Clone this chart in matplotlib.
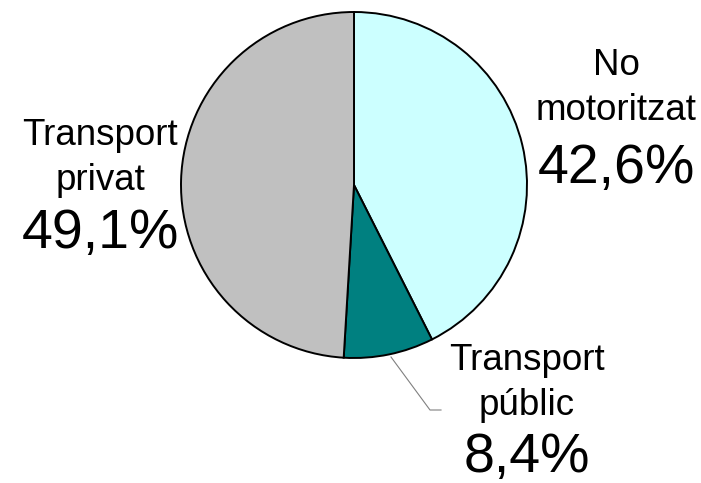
import matplotlib.pyplot as plt

categories = ['No\nmotoritzat', 'Transport\npúblic', 'Transport\nprivat']
shares = [42.6, 8.4, 49.1]
pct_labels = ['42,6%', '8,4%', '49,1%']
colors = ['#CCFFFF', '#008080', '#C0C0C0']

plt.rcParams['font.family'] = ['Liberation Sans', 'DejaVu Sans']

W, H = 701, 483
fig = plt.figure(figsize=(W / 100, H / 100), dpi=100)
ax = fig.add_axes([0, 0, 1, 1])

cx, cy, r = 354, H - 185, 173
ax.pie(shares, colors=colors, startangle=90, counterclock=False,
       center=(cx, cy), radius=r, frame=True,
       wedgeprops=dict(edgecolor='black', linewidth=1.4))
ax.set_xlim(0, W)
ax.set_ylim(0, H)
ax.set_aspect('equal')
ax.axis('off')

# label positions (x centre, baselines of name lines, baseline of percent)
label_pos = [(616, [75, 120], 183), (527, [370, 415], 472), (100, [145, 190], 248)]
for name, pct, (x, ys, yp) in zip(categories, pct_labels, label_pos):
    for line, y in zip(name.split('\n'), ys):
        ax.text(x, H - y, line, ha='center', va='baseline', fontsize=26.5)
    ax.text(x, H - yp, pct, ha='center', va='baseline', fontsize=40)

# leader line for Transport públic
ax.plot([391, 430, 441], [H - 357, H - 410, H - 410], color='#808080', linewidth=0.8)

fig.savefig('out.png', dpi=100)
